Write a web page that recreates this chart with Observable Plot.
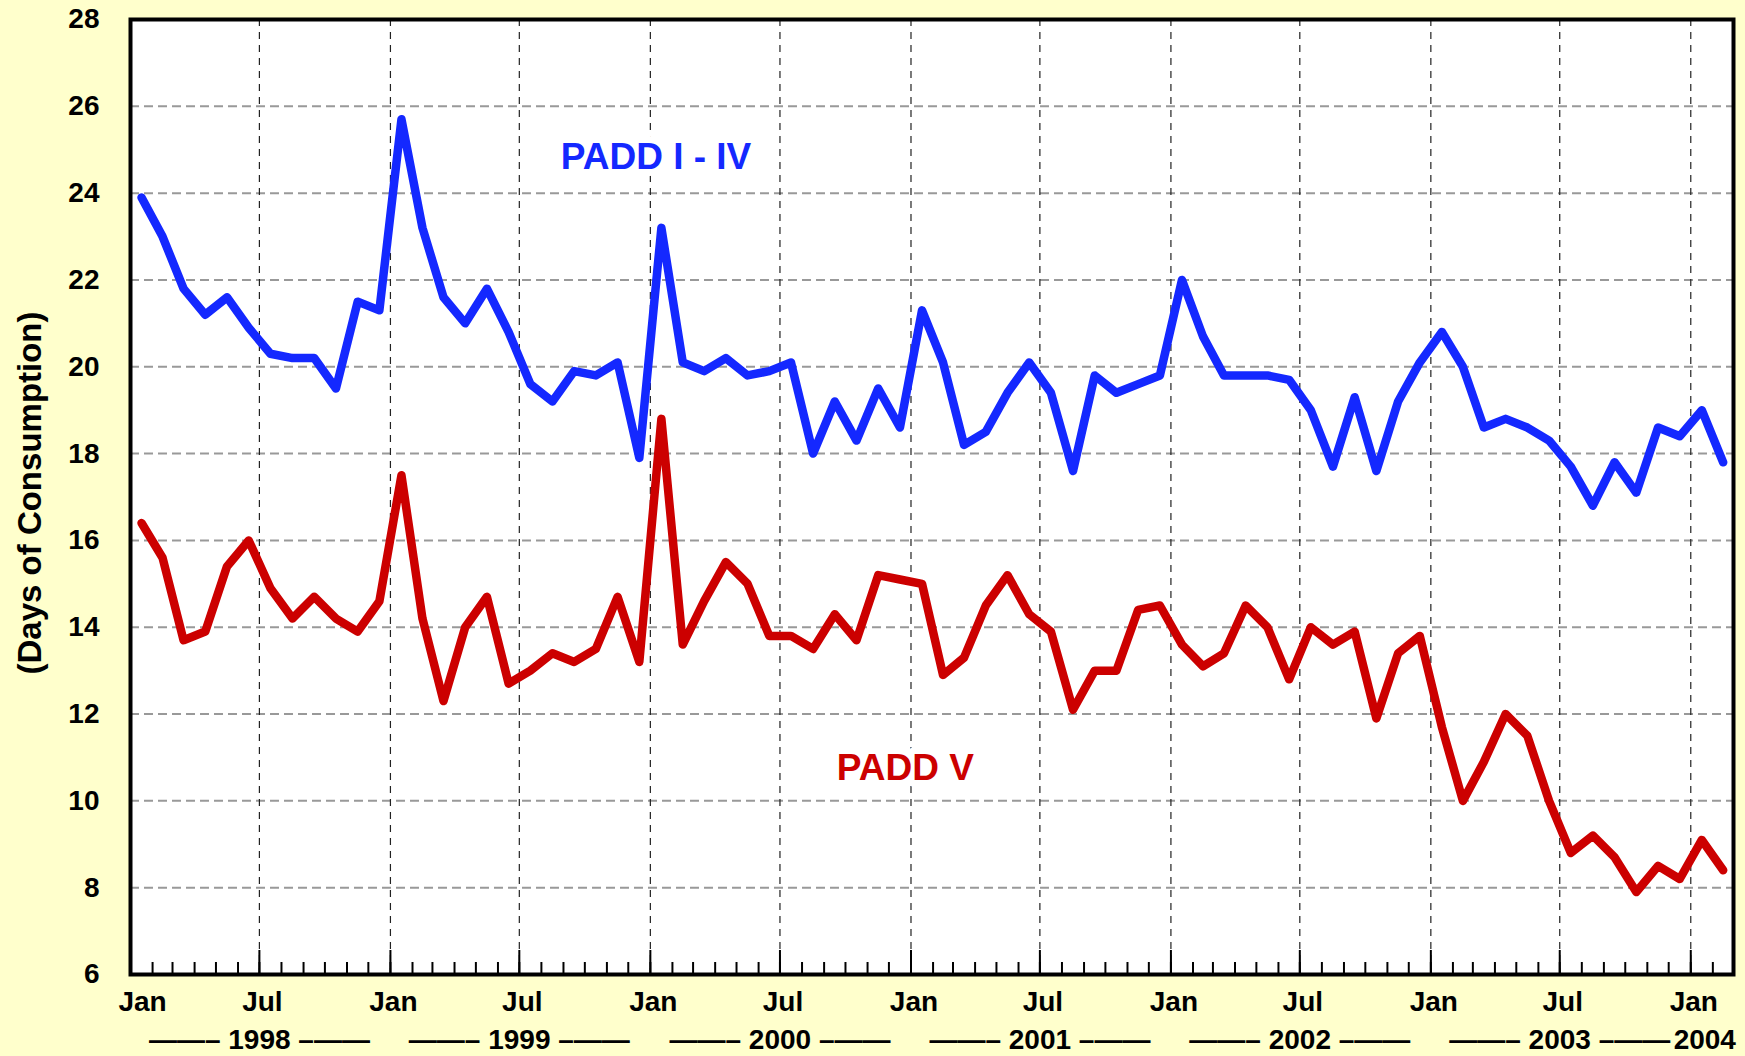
<!DOCTYPE html>
<html><head><meta charset="utf-8">
<script src="https://cdn.jsdelivr.net/npm/d3@7"></script>
<script src="https://cdn.jsdelivr.net/npm/@observablehq/plot@0.6"></script>
<style>
html,body{margin:0;padding:0;background:#FFFFCC;overflow:hidden;}
#chart{width:1745px;height:1056px;}
</style></head><body><div id="chart"></div>
<script>
// ---- data ----
const firstMonth = "1998-01-01";
const endOfRange = "2004-03-01";
const padd1to4 = [
  23.9,23.0,21.8,21.2,21.6,20.9,20.3,20.2,20.2,19.5,21.5,21.3,
  25.7,23.2,21.6,21.0,21.8,20.8,19.6,19.2,19.9,19.8,20.1,17.9,
  23.2,20.1,19.9,20.2,19.8,19.9,20.1,18.0,19.2,18.3,19.5,18.6,
  21.3,20.1,18.2,18.5,19.4,20.1,19.4,17.6,19.8,19.4,19.6,19.8,
  22.0,20.7,19.8,19.8,19.8,19.7,19.0,17.7,19.3,17.6,19.2,20.1,
  20.8,20.0,18.6,18.8,18.6,18.3,17.7,16.8,17.8,17.1,18.6,18.4,
  19.0,17.8
];
const padd5 = [
  16.4,15.6,13.7,13.9,15.4,16.0,14.9,14.2,14.7,14.2,13.9,14.6,
  17.5,14.2,12.3,14.0,14.7,12.7,13.0,13.4,13.2,13.5,14.7,13.2,
  18.8,13.6,14.6,15.5,15.0,13.8,13.8,13.5,14.3,13.7,15.2,15.1,
  15.0,12.9,13.3,14.5,15.2,14.3,13.9,12.1,13.0,13.0,14.4,14.5,
  13.6,13.1,13.4,14.5,14.0,12.8,14.0,13.6,13.9,11.9,13.4,13.8,
  11.7,10.0,10.9,12.0,11.5,10.0,8.8,9.2,8.7,7.9,8.5,8.2,
  9.1,8.4
];
const seriesNames = ["PADD I - IV", "PADD V"];
const seriesColors = ["#1428ff", "#cc0000"];
const yTicks = [6,8,10,12,14,16,18,20,22,24,26,28];
const monthTickNames = ["Jan", "Jul"];
const yearLabels = [1998,1999,2000,2001,2002,2003,2004];
const yTitle = "(Days of Consumption)";
// label anchor positions (data units)
const labelDates = ["2000-01-09", "2000-12-24"];
const labelValues = [24.83, 10.76];

// ---- build ----
const t0 = new Date(firstMonth), t1 = new Date(endOfRange);
const months = d3.utcMonth.range(t0, t1);
const mid = m => new Date((+m + +d3.utcMonth.offset(m, 1)) / 2);
const rows = [];
months.forEach((m, i) => {
  rows.push({date: mid(m), value: padd1to4[i], series: seriesNames[0]});
  rows.push({date: mid(m), value: padd5[i], series: seriesNames[1]});
});
const majorTicks = d3.utcMonth.every(6).range(t0, t1);
const yearFull = yearLabels.filter(y => y < 2004).map(y => new Date(Date.UTC(y, 6, 1)));
const yearLast = yearLabels.filter(y => y >= 2004).map(y => new Date(Date.UTC(y, 0, 1)));
const labels = seriesNames.map((n, i) => ({name: n, date: new Date(labelDates[i]), value: labelValues[i], color: seriesColors[i]}));

const W = 1745, H = 1056, mL = 130, mR = 12, mT = 19, mB = 82;
const innerH = H - mT - mB;
const font = "'Liberation Sans', Arial, Helvetica, sans-serif";
const dashL = "\u2014\u2014\u2013", dashR = "\u2013\u2014\u2014";
const monthFmt = d => monthTickNames[d.getUTCMonth() === 0 ? 0 : 1];
const txt = {fontSize: 28, fontWeight: "bold", label: null, tickSize: 0};

const chart = Plot.plot({
  width: W, height: H,
  marginLeft: mL, marginRight: mR, marginTop: mT, marginBottom: mB,
  style: {background: "transparent", fontFamily: font, fontWeight: "bold", fontSize: "28px", color: "black"},
  x: {type: "utc", domain: [t0, t1]},
  y: {domain: [6, 28]},
  color: {domain: seriesNames, range: seriesColors},
  marks: [
    Plot.frame({fill: "white"}),
    Plot.gridY(yTicks, {stroke: "#999", strokeOpacity: 1, strokeWidth: 2, strokeDasharray: "9,5"}),
    Plot.gridX(majorTicks, {stroke: "#222", strokeOpacity: 1, strokeWidth: 1.2, strokeDasharray: "7,6"}),
    Plot.tickX(months, {x: d => d, insetTop: innerH - 12, stroke: "black", strokeWidth: 2}),
    Plot.tickX(majorTicks, {x: d => d, insetTop: innerH - 24, stroke: "black", strokeWidth: 2}),
    Plot.text(labels, {x: "date", y: "value", text: "name", fill: "color", fontSize: 37, fontWeight: "bold",
      stroke: "white", strokeWidth: 14, lineAnchor: "middle"}),
    Plot.line(rows, {x: "date", y: "value", z: "series", stroke: "series", strokeWidth: 8.5,
      strokeLinejoin: "round", strokeLinecap: "round"}),
    Plot.frame({stroke: "black", strokeWidth: 4}),
    Plot.axisY(yTicks, {...txt, tickPadding: 31}),
    Plot.axisX(majorTicks.slice(0, 1), {...txt, tickPadding: 17, dx: 12, tickFormat: monthFmt}),
    Plot.axisX(majorTicks.slice(1), {...txt, tickPadding: 17, dx: 3, tickFormat: monthFmt}),
    Plot.axisX(yearFull, {...txt, tickPadding: 55, tickFormat: d => `${dashL} ${d.getUTCFullYear()} ${dashR}`}),
    Plot.axisX(yearLast, {...txt, tickPadding: 55, dx: 14, tickFormat: d => `${d.getUTCFullYear()}`}),
    Plot.text([yTitle], {frameAnchor: "left", textAnchor: "middle", rotate: -90, dx: -100, dy: -4, fontSize: 33, fontWeight: "bold"})
  ]
});
document.getElementById("chart").appendChild(chart);
</script>
</body></html>
